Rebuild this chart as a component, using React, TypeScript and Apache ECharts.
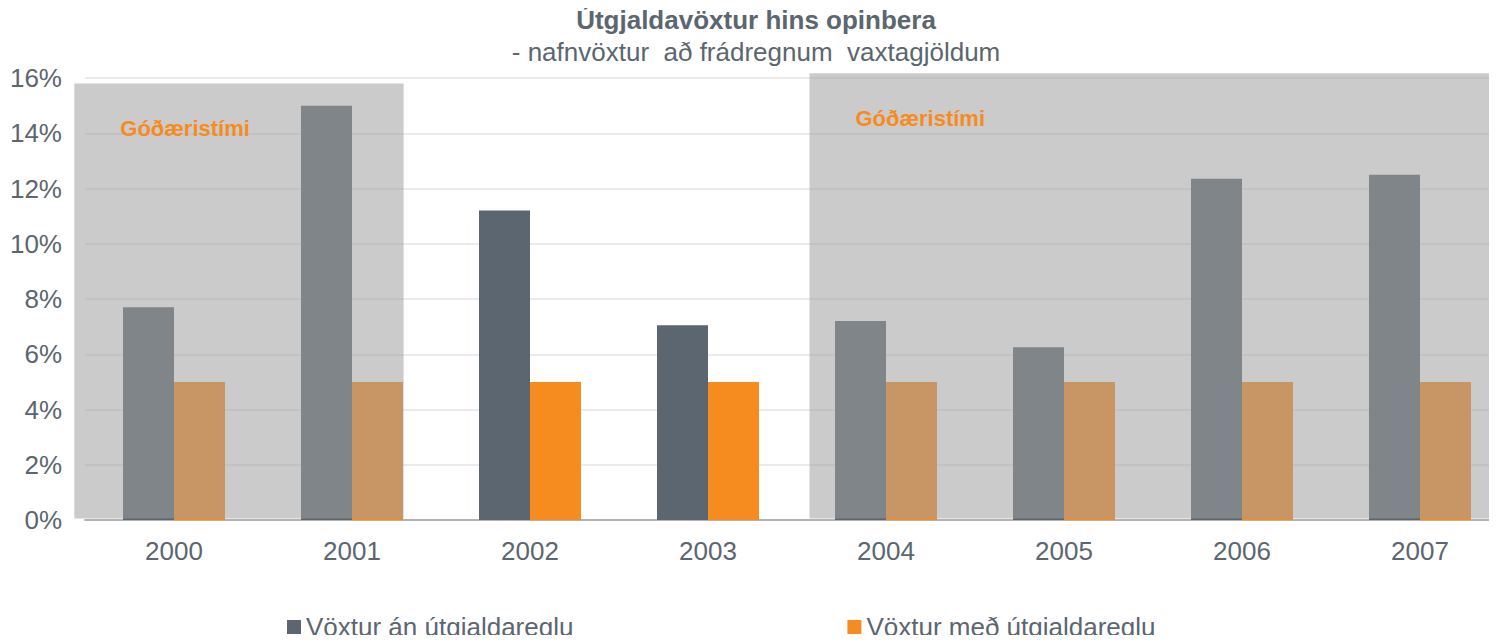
import React, { useEffect, useRef } from "react";
import * as echarts from "echarts";

const titleText = "Útgjaldavöxtur hins opinbera";
const subtitleText = "- nafnvöxtur  að frádregnum  vaxtagjöldum";
const categories = ["2000", "2001", "2002", "2003", "2004", "2005", "2006", "2007"];
const seriesNames = ["Vöxtur án útgjaldareglu", "Vöxtur með útgjaldareglu"];
const withoutRule = [7.7, 15.0, 11.2, 7.05, 7.2, 6.25, 12.35, 12.5];
const withRule = [5, 5, 5, 5, 5, 5, 5, 5];
const yMin = 0;
const yMax = 16;
const yInterval = 2;
// boom-period shading, in category-index units (x) and percent (top)
const shadeLabel = "Góðæristími";
const shadeStart = [-0.56, 3.57];
const shadeEnd = [1.29, 7.6];
const shadeTop = [15.8, 16.17];

const FONT = "'Liberation Sans', Arial, sans-serif";
const TEXT = "#5b6670";

export default function App() {
  const ref = useRef<HTMLDivElement>(null);
  useEffect(() => {
    if (!ref.current) return;
    const chart = echarts.init(ref.current, undefined, { renderer: "svg" });
    const shadeData = shadeStart.map((s, i) => [s, shadeEnd[i], shadeTop[i]]);
    chart.setOption({
      animation: false,
      backgroundColor: "#ffffff",
      textStyle: { fontFamily: FONT },
      title: [
        {
          text: titleText,
          left: 756,
          textAlign: "center",
          top: 7,
          padding: 0,
          textStyle: { fontSize: 26, fontWeight: "bold", color: TEXT, fontFamily: FONT },
        },
        {
          text: subtitleText,
          left: 756,
          textAlign: "center",
          top: 39,
          padding: 0,
          textStyle: { fontSize: 26, fontWeight: "normal", color: TEXT, fontFamily: FONT },
        },
      ],
      legend: {
        data: seriesNames,
        left: 287,
        top: 614,
        padding: 0,
        itemWidth: 14,
        itemHeight: 14,
        itemGap: 274,
        icon: "rect",
        textStyle: { fontSize: 26, color: TEXT, fontFamily: FONT },
      },
      grid: { left: 85, width: 1424, top: 78, bottom: 123, containLabel: false },
      xAxis: [
        {
          type: "category",
          data: categories,
          axisLine: { lineStyle: { color: "#b3b3b3", width: 2 } },
          axisTick: { alignWithLabel: true, length: 5, lineStyle: { color: "#b3b3b3", width: 1.5 } },
          axisLabel: { fontSize: 26, color: TEXT, margin: 18, fontFamily: FONT },
          splitLine: { show: false },
        },
        { type: "value", min: -0.5, max: 7.5, show: false },
      ],
      yAxis: {
        type: "value",
        min: yMin,
        max: yMax,
        interval: yInterval,
        axisLine: { show: false },
        axisTick: { show: false },
        axisLabel: { fontSize: 26, color: TEXT, margin: 23, formatter: "{value}%", fontFamily: FONT },
        splitLine: { lineStyle: { color: "#e4e4e4", width: 1.5 } },
      },
      series: [
        {
          name: seriesNames[0],
          type: "bar",
          data: withoutRule,
          barWidth: 51,
          barGap: "0%",
          itemStyle: { color: "#5b6670" },
          z: 2,
        },
        {
          name: seriesNames[1],
          type: "bar",
          data: withRule,
          barWidth: 51,
          barGap: "0%",
          itemStyle: { color: "#f68b1f" },
          z: 2,
        },
        {
          type: "custom",
          xAxisIndex: 1,
          yAxisIndex: 0,
          clip: false,
          silent: true,
          z: 10,
          data: shadeData,
          renderItem: (params: any, api: any) => {
            const p0 = api.coord([api.value(0), api.value(2)]);
            const p1 = api.coord([api.value(1), 0]);
            return {
              type: "group",
              children: [
                {
                  type: "rect",
                  shape: { x: p0[0], y: p0[1], width: p1[0] - p0[0], height: p1[1] - p0[1] - 1.5 },
                  style: { fill: "rgba(159,159,159,0.543)" },
                },
                {
                  type: "text",
                  x: p0[0] + 46,
                  y: p0[1] + 45,
                  style: {
                    text: shadeLabel,
                    fill: "#f68b1f",
                    font: `bold 22px ${FONT}`,
                    textAlign: "left",
                    verticalAlign: "middle",
                  },
                },
              ],
            };
          },
        },
      ],
    });
    return () => chart.dispose();
  }, []);
  return (
    <div style={{ width: 1497, height: 643, margin: -8, overflow: "hidden", position: "relative" }}>
      <div ref={ref} style={{ width: 1510, height: 643 }} />
    </div>
  );
}
